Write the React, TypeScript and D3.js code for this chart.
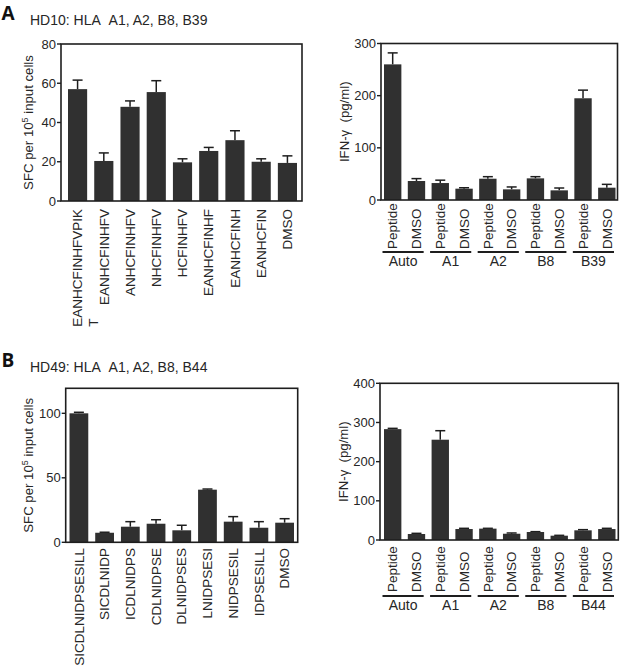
import React from 'react';
import * as d3 from 'd3';

const FONT = '"Liberation Sans", Arial, sans-serif';
const FS = 13.5;

// ---------- Panel A data ----------
const aTitle = 'HD10: HLA\u00a0\u00a0A1, A2, B8, B39';
const aPeptides = ['EANHCFINHFVPIK\nT', 'EANHCFINHFV', 'ANHCFINHFV', 'NHCFINHFV', 'HCFINHFV', 'EANHCFINHF', 'EANHCFINH', 'EANHCFIN', 'DMSO'];
const aSfc = [57, 20.4, 48, 55.5, 19.7, 25.5, 31, 20, 19.4];
const aSfcErr = [4.6, 4.1, 3, 5.8, 1.8, 1.8, 4.8, 1.5, 3.6];
const aSfcTicks = [0, 20, 40, 60, 80];
const aGroups = ['Auto', 'A1', 'A2', 'B8', 'B39'];
const aIfn = [260, 36.4, 32.5, 21.7, 40.8, 20.4, 41.5, 18.5, 195, 23.6];
const aIfnErr = [22, 4.6, 5.5, 1.8, 3.9, 4.6, 3.2, 4.5, 15.6, 6.4];
const aIfnTicks = [0, 100, 200, 300];

// ---------- Panel B data ----------
const bTitle = 'HD49: HLA\u00a0\u00a0A1, A2, B8, B44';
const bPeptides = ['SICDLNIDPSESILL', 'SICDLNIDP', 'ICDLNIDPS', 'CDLNIDPSE', 'DLNIDPSES', 'LNIDPSESI', 'NIDPSESIL', 'IDPSESILL', 'DMSO'];
const bSfc = [100, 7.4, 12.1, 14.4, 9.3, 40.8, 16, 11.3, 15.2];
const bSfcErr = [0.8, 0.4, 3.9, 3.1, 3.9, 0.5, 3.9, 4.7, 3.1];
const bSfcTicks = [0, 50, 100];
const bGroups = ['Auto', 'A1', 'A2', 'B8', 'B44'];
const bIfn = [283, 15.3, 256, 28, 29, 16, 20.4, 11, 24.7, 28];
const bIfnErr = [2, 1.7, 23, 1.8, 0.8, 1.9, 0.9, 0.9, 1.7, 1.8];
const bIfnTicks = [0, 100, 200, 300, 400];

const conditions = ['Peptide', 'DMSO'];

let ctx: CanvasRenderingContext2D | null = null;
function measure(t: string) {
  if (!ctx) ctx = document.createElement('canvas').getContext('2d');
  if (!ctx) return t.length * 8;
  ctx.font = `${FS}px "Liberation Sans"`;
  return ctx.measureText(t).width;
}

const BAR = '#303030';
const INK = '#1e1e1e';
const TXT = '#262626';

type PanelProps = {
  x0: number; x1: number; yTop: number; yBottom: number;
  bandStart: number; bandEnd: number;
  yMax: number; ticks: number[];
  values: number[]; errs: number[];
  labels: string[];
  mode: 'top' | 'bottom';
  labelY: number;
  groups?: string[];
  underlineY?: number;
  groupY?: number;
  yLabel: React.ReactNode;
  yLabelX: number;
};

function Panel(p: PanelProps) {
  const idx = p.values.map((_, i) => i);
  const x = d3.scaleBand<number>().domain(idx).range([p.bandStart, p.bandEnd]).paddingInner(0.27).paddingOuter(0);
  const y = d3.scaleLinear().domain([0, p.yMax]).range([p.yBottom, p.yTop]);
  const bw = x.bandwidth();
  const yMid = (p.yTop + p.yBottom) / 2;
  return (
    <g>
      {idx.map(i => {
        const cx = (x(i) as number) + bw / 2;
        const yv = y(p.values[i]);
        const ye = y(p.values[i] + p.errs[i]);
        return (
          <g key={'b' + i}>
            <line x1={cx} x2={cx} y1={yv} y2={ye} stroke={INK} strokeWidth={1.5} />
            <line x1={cx - 5} x2={cx + 5} y1={ye} y2={ye} stroke={INK} strokeWidth={1.5} />
            <rect x={x(i)} y={yv} width={bw} height={p.yBottom - yv} fill={BAR} />
          </g>
        );
      })}
      <rect x={p.x0} y={p.yTop} width={p.x1 - p.x0} height={p.yBottom - p.yTop} fill="none" stroke={INK} strokeWidth={1.6} />
      <text transform={`translate(${p.yLabelX},${yMid}) rotate(-90)`} textAnchor="middle" dy="0.35em" fontSize={13.2} fill={TXT} xmlSpace="preserve" style={{ whiteSpace: 'pre' }}>{p.yLabel}</text>
      {p.ticks.map(t => (
        <g key={'t' + t}>
          <line x1={p.x0 - 4} x2={p.x0} y1={y(t)} y2={y(t)} stroke={INK} strokeWidth={1.4} />
          <text x={p.x0 - 5} y={y(t) + 4.6} textAnchor="end" fontSize={13} fill={TXT}>{String(t)}</text>
        </g>
      ))}
      {p.labels.map((lab, i) => {
        const cx = (x(i) as number) + bw / 2;
        const lines = lab.split('\n');
        if (p.mode === 'top') {
          const w1 = measure(lines[0]);
          return (
            <g key={'l' + i}>
              <text transform={`translate(${cx},${p.labelY}) rotate(-90)`} textAnchor="end" dy="0.35em" fontSize={FS} fill={TXT}>{lines[0]}</text>
              {lines.slice(1).map((ln, k) => (
                <text key={k} transform={`translate(${cx + 15.5 * (k + 1)},${p.labelY + w1}) rotate(-90)`} textAnchor="start" dy="0.35em" fontSize={FS} fill={TXT}>{ln}</text>
              ))}
            </g>
          );
        }
        return (
          <text key={'l' + i} transform={`translate(${cx},${p.labelY}) rotate(-90)`} textAnchor="start" dy="0.35em" fontSize={FS} fill={TXT}>{lab}</text>
        );
      })}
      {p.groups && p.groups.map((g, gi) => {
        const l = (x(gi * 2) as number) - 1.5;
        const r = (x(gi * 2 + 1) as number) + bw - 1.5;
        return (
          <g key={'g' + g}>
            <line x1={l} x2={r} y1={p.underlineY} y2={p.underlineY} stroke={INK} strokeWidth={1.8} />
            <text x={(l + r) / 2} y={p.groupY} textAnchor="middle" fontSize={14} fill={TXT}>{g}</text>
          </g>
        );
      })}
    </g>
  );
}

const sfcLabel = (
  <>SFC per 10<tspan fontSize={9} dy="-5">5</tspan><tspan dy="5">{'\u00a0input cells'}</tspan></>
);
const ifnLabel = 'IFN-γ\u00a0\u00a0(pg/ml)';

function expand(groups: string[]) {
  const out: string[] = [];
  groups.forEach(() => conditions.forEach(c => out.push(c)));
  return out;
}

export default function App() {
  return (
    <div style={{ position: 'absolute', left: 0, top: 0 }}>
      <svg width={623} height={669} style={{ display: 'block', background: '#fff' }} fontFamily={FONT}>
        <text x={1.5} y={20} fontFamily='"Open Sans", Arial, sans-serif' fontWeight={700} fontSize={19} fill="#111">A</text>
        <text x={30} y={25} fontSize={14} fill={TXT}>{aTitle}</text>
        <text x={1.5} y={367} fontFamily='"Open Sans", Arial, sans-serif' fontWeight={700} fontSize={19} fill="#111">B</text>
        <text x={30} y={371.5} fontSize={14} fill={TXT}>{bTitle}</text>

        <Panel x0={61} x1={302} yTop={44} yBottom={201} bandStart={68} bandEnd={297}
          yMax={80} ticks={aSfcTicks} values={aSfc} errs={aSfcErr} labels={aPeptides}
          mode="top" labelY={209} yLabel={sfcLabel} yLabelX={28.5} />
        <Panel x0={381} x1={617.5} yTop={43.5} yBottom={200} bandStart={384} bandEnd={615.5}
          yMax={300} ticks={aIfnTicks} values={aIfn} errs={aIfnErr} labels={expand(aGroups)}
          mode="bottom" labelY={249} groups={aGroups} underlineY={252} groupY={266}
          yLabel={ifnLabel} yLabelX={344} />
        <Panel x0={65.7} x1={297.7} yTop={388.3} yBottom={542.3} bandStart={69.5} bandEnd={294}
          yMax={119.4} ticks={bSfcTicks} values={bSfc} errs={bSfcErr} labels={bPeptides}
          mode="top" labelY={548} yLabel={sfcLabel} yLabelX={28.5} />
        <Panel x0={380} x1={618.3} yTop={383.3} yBottom={540} bandStart={384} bandEnd={615.5}
          yMax={400} ticks={bIfnTicks} values={bIfn} errs={bIfnErr} labels={expand(bGroups)}
          mode="bottom" labelY={592} groups={bGroups} underlineY={596} groupY={610}
          yLabel={ifnLabel} yLabelX={343.5} />
      </svg>
    </div>
  );
}
